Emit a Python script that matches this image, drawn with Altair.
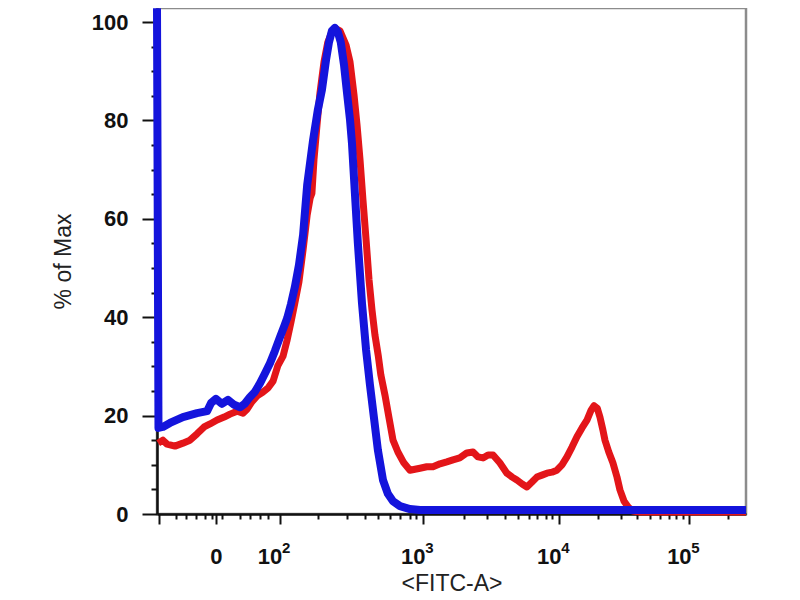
import altair as alt
import pandas as pd

# x is the display channel of the biexponential FITC-A axis (0-1000 across the plot)
blue_ch = [0, 2.5, 10, 22, 44, 68, 85, 92, 100, 110,
           120.5, 131, 141, 149, 158, 166, 175, 183, 192, 200,
           209, 216, 221, 227.5, 234, 241, 248, 255, 265, 273,
           280, 287, 292, 297, 302, 307, 312, 317.5, 322.6, 327.7,
           331, 336, 341, 348, 355, 361.6, 368.4, 375, 383.7, 392,
           400.7, 412.6, 429.5, 446.5, 1000]
blue_pct = [102.8, 17.5, 17.7, 18.5, 19.7, 20.5, 20.9, 22.6, 23.4, 22.4,
            23.2, 22.2, 21.7, 22.4, 23.8, 24.8, 26.6, 28.5, 30.7, 33.1,
            36.0, 38.2, 39.8, 42.7, 46.1, 50.6, 56.7, 66.9, 76.0, 82.1,
            86.2, 92.3, 95.9, 98.2, 98.8, 98.0, 95.9, 91.3, 85.6, 80.1,
            75.4, 65.2, 55.1, 42.9, 33.3, 26.2, 19.5, 13.0, 6.9, 4.1,
            2.6, 1.6, 1.0, 0.8, 0.8]

red_ch = [2, 10, 17, 30.5, 44, 56, 68, 80, 90, 102,
          114, 124, 136, 146, 153, 161, 170, 180, 188.5, 197,
          205, 214, 221, 227.5, 234, 241, 248, 255, 260, 263,
          266.5, 271.6, 276.7, 283.5, 290, 297, 304, 310.7, 321, 327.7,
          334.5, 339.6, 344.7, 349.7, 355, 360, 365, 370, 375.5, 380,
          387, 394, 400.7, 409, 419, 429.5, 438, 446.5, 458, 468.6,
          480.5, 492, 502.5, 514, 526, 536.5, 545, 553.5, 562, 570.5,
          582, 594, 603, 611, 620, 628, 636.7, 645, 653.6, 662,
          670.6, 679, 687.6, 696, 704.6, 713, 721.6, 730, 737, 742,
          747.5, 752, 757, 760.6, 767, 774, 781, 786, 793, 800,
          808, 820, 1000]
red_pct = [14.4, 15.0, 14.2, 13.8, 14.4, 15.0, 16.3, 17.7, 18.3, 19.1,
           19.7, 20.3, 20.9, 20.5, 21.3, 22.8, 24.0, 24.8, 25.6, 27.0,
           30.1, 32.1, 35.4, 39.0, 42.9, 47.2, 53.7, 60.8, 64.2, 65.2,
           72.0, 79.0, 85.6, 91.9, 95.9, 98.0, 98.6, 98.2, 95.3, 91.9,
           85.2, 79.1, 72.0, 63.8, 55.7, 47.6, 41.5, 36.4, 32.3, 28.3,
           24.2, 19.5, 15.0, 12.6, 10.4, 8.9, 9.1, 9.3, 9.6, 9.6,
           10.2, 10.6, 11.0, 11.4, 12.4, 12.6, 11.6, 11.4, 12.0, 12.0,
           10.4, 8.3, 7.5, 6.9, 6.1, 5.5, 6.5, 7.5, 7.9, 8.3,
           8.5, 8.9, 10.0, 11.6, 13.6, 15.7, 17.5, 19.1, 21.1, 22.0,
           21.5, 19.7, 17.1, 15.0, 12.6, 10.4, 7.5, 4.9, 2.6, 1.4,
           0.6, 0.4, 0.4]

# axis ticks (channel positions) and their labels
x_major = [4, 100, 208, 451, 682, 903]
x_major_text = ["", "0", "10", "10", "10", "10"]
x_exponent = ["", "", "2", "3", "4", "5"]
x_minor = [33, 50, 67, 81.5, 93, 110, 141, 158, 175, 188.5,
           274, 322, 353, 376, 395, 412, 429, 440,
           520.5, 561, 590, 612.5, 631, 646, 659.6, 671.4,
           748.5, 787.4, 815, 836.5, 854, 868.7, 881.6, 893, 970]
y_ticks = list(range(0, 101, 5))

BLUE = "#1414dc"
RED = "#e31519"
FONT = "Liberation Sans"


def label_expr(values, texts):
    expr = "''"
    for v, t in reversed(list(zip(values, texts))):
        expr = f"datum.value === {v} ? '{t}' : {expr}"
    return expr


major_test = "indexof([" + ",".join(str(v) for v in x_major) + "], datum.value) >= 0"

x_scale = alt.Scale(domain=[0, 1000], nice=False, zero=False)

y_enc = alt.Y(
    "pct:Q",
    scale=alt.Scale(domain=[0, 102.85], nice=False),
    axis=alt.Axis(
        title="% of Max",
        values=y_ticks,
        labelExpr="datum.value % 20 === 0 ? datum.label : ''",
        tickSize={"condition": {"test": "datum.value % 20 === 0", "value": 15}, "value": 6},
        labelPadding=14,
        titlePadding=16,
        labelOverlap=False,
        grid=False,
    ),
)

red_df = pd.DataFrame({"ch": red_ch, "pct": red_pct})
blue_df = pd.DataFrame({"ch": blue_ch, "pct": blue_pct})

red = (
    alt.Chart(red_df)
    .mark_line(color=RED, strokeWidth=7, strokeJoin="round", clip=False)
    .encode(
        x=alt.X(
            "ch:Q",
            scale=x_scale,
            axis=alt.Axis(
                title="<FITC-A>",
                orient="bottom",
                values=x_major + x_minor,
                labelExpr=label_expr(x_major, x_major_text),
                tickSize={"condition": {"test": major_test, "value": 10}, "value": 5},
                labelOffset={"condition": {"test": "datum.value === 100", "value": 0}, "value": -10},
                labelPadding=22,
                titlePadding=5,
                labelOverlap=False,
                labelFlush=False,
                grid=False,
            ),
        ),
        y=y_enc,
    )
)

blue = (
    alt.Chart(blue_df)
    .mark_line(color=BLUE, strokeWidth=8, strokeJoin="round", clip=False)
    .encode(
        x=alt.X(
            "ch:Q",
            scale=x_scale,
            axis=alt.Axis(
                title="",
                orient="bottom",
                values=x_major,
                labelExpr=label_expr(x_major, x_exponent),
                ticks=False,
                domain=False,
                grid=False,
                labelAlign="left",
                labelOffset=2,
                labelFontSize=15,
                labelPadding=26,
                labelOverlap=False,
                labelFlush=False,
            ),
        ),
        y=y_enc,
    )
)

chart = (
    alt.layer(red, blue)
    .resolve_axis(x="independent")
    .properties(
        width=589,
        height=506,
        padding={"left": 149, "top": 0, "right": 46, "bottom": 86},
        autosize=alt.AutoSizeParams(type="none"),
    )
    .configure_view(stroke="#8c8c8c", strokeWidth=2.5)
    .configure_axis(
        labelFont=FONT,
        labelFontWeight="bold",
        labelFontSize=22,
        labelColor="#111111",
        tickColor="#111111",
        tickWidth=2,
        domainColor="#111111",
        domainWidth=2.5,
        titleFont=FONT,
        titleFontWeight="normal",
        titleFontSize=23,
        titleColor="#222222",
    )
)

chart.save("out.html", embed_options={"renderer": "svg", "actions": False})
